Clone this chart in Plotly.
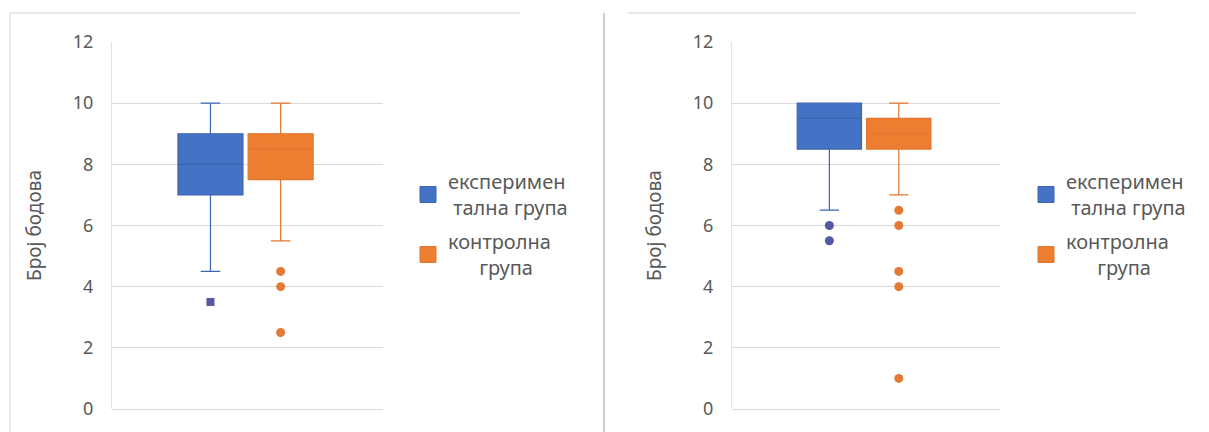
import plotly.graph_objects as go

# ---------------- data ----------------
series_names = ["експеримен<br>\u00a0тална група", "контролна<br>\u00a0\u00a0\u00a0\u00a0\u00a0\u00a0група"]
y_title = "Број бодова"
y_ticks = [0, 2, 4, 6, 8, 10, 12]

# left chart  [experimental, control]
left_q1 = [7.0, 7.5]
left_median = [8.0, 8.5]
left_q3 = [9.0, 9.0]
left_lower = [4.5, 5.5]
left_upper = [10.0, 10.0]
left_out_exp = [3.5]
left_out_ctrl = [4.5, 4.0, 2.5]

# right chart  [experimental, control]
right_q1 = [8.5, 8.5]
right_median = [9.5, 9.0]
right_q3 = [10.0, 9.5]
right_lower = [6.5, 7.0]
right_upper = [10.0, 10.0]
right_out_exp = [6.0, 5.5]
right_out_ctrl = [6.5, 6.0, 4.5, 4.0, 1.0]

# ---------------- style ----------------
W, H = 1209, 432
FONT = "Noto Sans"
TXT = "#595959"
GRID = "#D9D9D9"
fills = ["#4472C4", "#ED7D31"]
lines = ["#3D65B2", "#E2772E"]
out_colors = ["#5457A3", "#E27A35"]
positions = [0.0, 1.08]

fig = go.Figure()


def add_panel(xa, ya, q1, med, q3, lo, up, out_exp, out_ctrl, legend, exp_symbol):
    outs = [out_exp, out_ctrl]
    for i in range(2):
        fig.add_trace(go.Box(
            x=[positions[i]], q1=[q1[i]], median=[med[i]], q3=[q3[i]],
            lowerfence=[lo[i]], upperfence=[up[i]],
            width=1.0, whiskerwidth=0.3,
            fillcolor=fills[i], line=dict(color=lines[i], width=1.2),
            boxpoints=False, showlegend=False, hoverinfo="y",
            xaxis=xa, yaxis=ya,
        ))
        fig.add_trace(go.Scatter(
            x=[positions[i]] * len(outs[i]), y=outs[i], mode="markers",
            marker=dict(color=out_colors[i],
                        size=8 if (i == 0 and exp_symbol == "square") else 9,
                        symbol=exp_symbol if i == 0 else "circle"),
            showlegend=False, xaxis=xa, yaxis=ya,
        ))
    for i in range(2):
        fig.add_trace(go.Scatter(
            x=[None], y=[None], mode="markers", name=series_names[i],
            marker=dict(color=fills[i], symbol="square", size=22,
                        line=dict(color=lines[i], width=1)),
            legend=legend, legendgroup=f"{legend}{i}",
            xaxis=xa, yaxis=ya,
        ))


add_panel("x", "y", left_q1, left_median, left_q3, left_lower, left_upper,
          left_out_exp, left_out_ctrl, "legend", "square")
add_panel("x2", "y2", right_q1, right_median, right_q3, right_lower, right_upper,
          right_out_exp, right_out_ctrl, "legend2", "circle")

y_dom = [(H - 409) / H, (H - 42) / H]
xrange_ = [-1.515, 2.655]

yaxis_common = dict(
    range=[0, 12], tickvals=y_ticks, ticktext=[str(t) for t in y_ticks],
    showgrid=True, gridcolor=GRID, gridwidth=1,
    zeroline=True, zerolinecolor=GRID, zerolinewidth=1,
    showline=True, linecolor="#E4E4E4", linewidth=1,
    ticks="", ticklabelstandoff=14, automargin=False,
    tickfont=dict(family=FONT, size=18, color=TXT),
    title=dict(text=y_title, font=dict(family=FONT, size=19, color=TXT), standoff=26),
    domain=y_dom, fixedrange=True,
)
xaxis_common = dict(range=xrange_, visible=False, fixedrange=True, automargin=False)

legend_common = dict(
    font=dict(family=FONT, size=20, color=TXT),
    bgcolor="rgba(0,0,0,0)", borderwidth=0,
    xanchor="left", yanchor="top", valign="middle",
    traceorder="grouped", tracegroupgap=5,
)

fig.update_layout(
    width=W, height=H, autosize=False,
    margin=dict(l=0, r=0, t=0, b=0, pad=0, autoexpand=False),
    paper_bgcolor="white", plot_bgcolor="white",
    showlegend=True,
    xaxis=dict(domain=[112 / W, 383 / W], anchor="y", **xaxis_common),
    xaxis2=dict(domain=[732 / W, 1000 / W], anchor="y2", **xaxis_common),
    yaxis=dict(anchor="x", **yaxis_common),
    yaxis2=dict(anchor="x2", **yaxis_common),
    legend=dict(x=408 / W, y=(H - 162) / H, **legend_common),
    legend2=dict(x=1026 / W, y=(H - 162) / H, **legend_common),
    font=dict(family=FONT, color=TXT),
)

# chart-area borders and the separator between the two pasted charts
border = dict(color="#E2E2E2", width=1.5)
fig.add_shape(type="line", xref="paper", yref="paper", x0=10 / W, x1=520 / W,
              y0=(H - 13) / H, y1=(H - 13) / H, line=border)
fig.add_shape(type="line", xref="paper", yref="paper", x0=10 / W, x1=10 / W,
              y0=0, y1=(H - 13) / H, line=border)
fig.add_shape(type="line", xref="paper", yref="paper", x0=628 / W, x1=1136 / W,
              y0=(H - 13) / H, y1=(H - 13) / H, line=border)
fig.add_shape(type="line", xref="paper", yref="paper", x0=604 / W, x1=604 / W,
              y0=0, y1=(H - 13) / H, line=dict(color="#BDBDBD", width=1.5))

fig.write_html("out.html",
               config={"displayModeBar": False},
               post_script="document.body.style.margin='0';document.body.style.overflow='hidden';")
